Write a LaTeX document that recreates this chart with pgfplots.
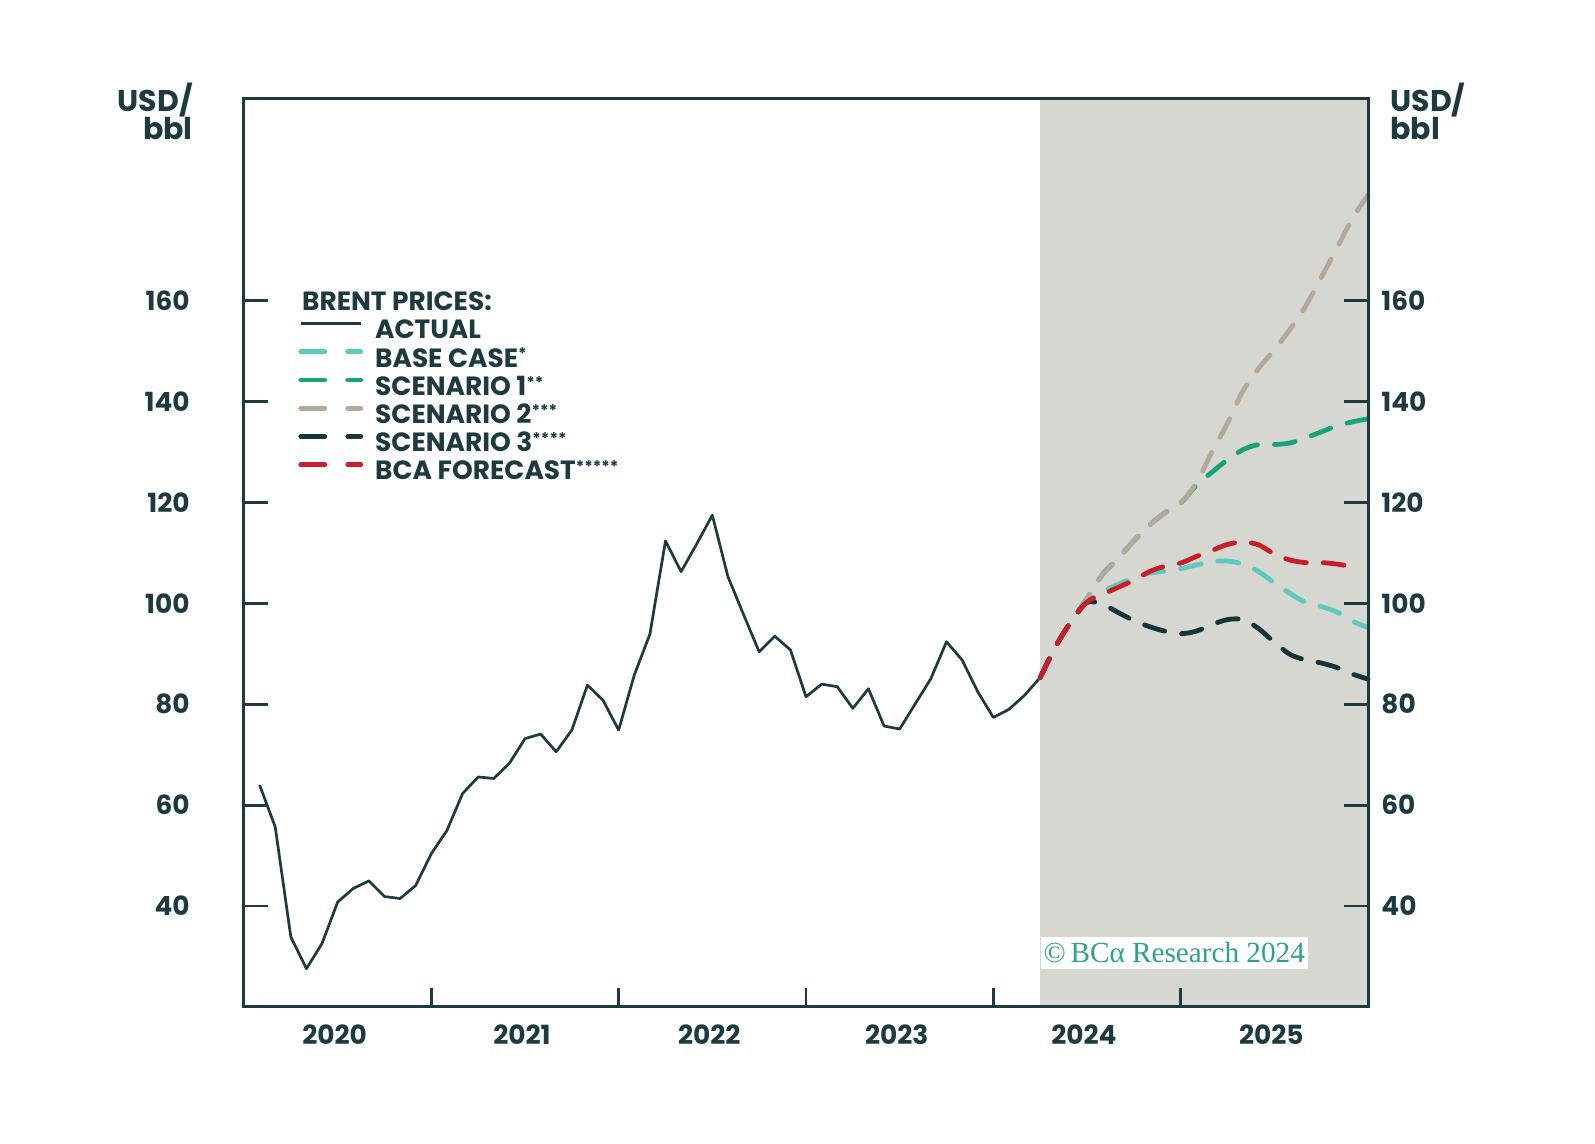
\documentclass[border=0pt]{standalone}
\usepackage{fontspec}
\setmainfont{Poppins}
\newfontfamily\crfont{Liberation Serif}
\usepackage{pgfplots}
\usepackage{pgfplotstable}
\pgfplotsset{compat=1.18}
\definecolor{axisdark}{HTML}{1C3A3F}
\definecolor{shadegray}{HTML}{D6D7D0}
\definecolor{basecol}{HTML}{5CCBBD}
\definecolor{sconecol}{HTML}{1AA37A}
\definecolor{sctwocol}{HTML}{B3A89C}
\definecolor{scthreecol}{HTML}{163539}
\definecolor{bcared}{HTML}{C8202A}
\definecolor{crgreen}{HTML}{2AA67A}
\newcommand\stars[1]{\raisebox{3.6pt}{\fontsize{8}{8}\selectfont #1}}
\newcommand\lblfont{\fontsize{13.2}{13.2}\selectfont\bfseries}

\pgfplotstableread{
m v
1 64.0
2 55.7
3 33.9
4 27.6
5 32.6
6 40.8
7 43.5
8 45.0
9 41.9
10 41.5
11 44.1
12 50.4
13 55.0
14 62.3
15 65.6
16 65.3
17 68.3
18 73.2
19 74.1
20 70.6
21 74.9
22 83.8
23 80.8
24 74.9
25 85.8
26 93.9
27 112.4
28 106.3
29 111.8
30 117.5
31 105.3
32 97.8
33 90.4
34 93.5
35 90.8
36 81.5
37 84.0
38 83.5
39 79.2
40 83.1
41 75.7
42 75.1
43 80.1
44 85.1
45 92.4
46 88.8
47 82.5
48 77.4
49 79.0
50 81.8
51 85.3
}\actual

\pgfplotstableread{
m base sone stwo sthree
51 85.3 85.3 85.3 85.3
52 91.5 91.5 91.5 91.5
53 96.5 96.5 96.5 96.5
54 100.3 101.0 101.0 100.2
55 102.3 105.8 105.8 99.8
56 103.8 108.9 108.9 98.2
57 105.0 112.4 112.4 96.6
58 106.0 115.5 115.5 95.4
59 106.4 118.0 118.0 94.5
60 106.9 119.9 119.9 94.0
61 107.6 123.4 123.9 94.5
62 108.3 126.0 130.0 95.8
63 108.4 128.5 135.7 96.8
64 107.8 130.5 142.2 96.8
65 106.3 131.5 146.6 95.0
66 104.1 131.5 150.3 92.3
67 102.0 131.8 154.3 89.9
68 100.2 132.8 158.9 88.8
69 99.4 134.0 164.6 88.2
70 98.3 135.2 170.4 87.3
71 96.5 136.0 176.3 86.0
72 95.2 136.6 181.0 85.0
}\scen

\pgfplotstableread{
m v
51 85.3
52 91.5
53 96.5
54 100.3
55 101.8
56 103.2
57 104.6
58 106.3
59 107.4
60 108.0
61 109.3
62 110.5
63 111.7
64 112.2
65 111.6
66 109.8
67 108.6
68 108.1
69 108.1
70 107.8
71 107.3
}\bca

\begin{document}
\begin{tikzpicture}
\useasboundingbox (-122pt,-68.5pt) rectangle (675.5pt,503.5pt);
\begin{axis}[
  scale only axis, width=562pt, height=454pt,
  xmin=0, xmax=72, ymin=20, ymax=200,
  axis on top, clip=false,
  axis line style={axisdark, line width=1.5pt},
  tick style={axisdark, line width=1.3pt},
  tick align=inside,
  major tick length=12pt,
  xtick={12,24,36,48,60}, xticklabels={},
  xtick pos=bottom,
  xtick style={/pgfplots/major tick length=9.5pt},
  extra x ticks={6,18,30,42,54,66},
  extra x tick labels={2020,2021,2022,2023,2024,2025},
  extra x tick style={major tick length=0pt, tick style={draw=none}},
  xticklabel style={inner sep=0pt, anchor=north, yshift=-8.5pt, xshift=-1.5pt, font=\lblfont, text=axisdark},
  ytick={40,60,...,160}, ytick pos=both,
  /pgf/number format/assume math mode=true,
  yticklabel style={inner sep=0pt, anchor=east, xshift=-27pt, font=\lblfont, text=axisdark},
  legend style={at={(rel axis cs:0.048,0.7591)}, anchor=north west, draw=none, fill=none, inner sep=0pt, row sep=0pt,
    font=\lblfont\color{axisdark},
    nodes={inner sep=0pt, text height=10.4pt, text depth=3.7pt},
    /tikz/every odd column/.append style={column sep=6pt}},
  legend cell align=left,
  legend image code/.code={\draw[#1] (1.25pt,4.3pt) -- (31.25pt,4.3pt);},
]
\fill[shadegray] (axis cs:51,20) rectangle (axis cs:72,200);
\addplot[axisdark, line width=1.35pt, line join=round, legend image post style={line cap=butt}] table[x=m,y=v] {\actual};
\addlegendentry{ACTUAL}
\addplot[basecol, line width=2.4pt, smooth, line cap=round, dash pattern=on 10.5pt off 8.5pt, legend image post style={dash pattern=on 12pt off 11.5pt on 6.5pt off 20pt}] table[x=m,y=base] {\scen};
\addlegendentry{BASE CASE\stars{*}}
\addplot[sconecol, line width=2.4pt, smooth, line cap=round, dash pattern=on 10.5pt off 8.5pt, legend image post style={dash pattern=on 12pt off 11.5pt on 6.5pt off 20pt}] table[x=m,y=sone] {\scen};
\addlegendentry{SCENARIO 1\stars{**}}
\addplot[sctwocol, line width=2.4pt, smooth, line cap=round, dash pattern=on 10.5pt off 8.5pt, legend image post style={dash pattern=on 12pt off 11.5pt on 6.5pt off 20pt}] table[x=m,y=stwo] {\scen};
\addlegendentry{SCENARIO 2\stars{***}}
\addplot[scthreecol, line width=2.4pt, smooth, line cap=round, dash pattern=on 10.5pt off 8.5pt, legend image post style={dash pattern=on 12pt off 11.5pt on 6.5pt off 20pt}] table[x=m,y=sthree] {\scen};
\addlegendentry{SCENARIO 3\stars{****}}
\addplot[bcared, line width=2.4pt, smooth, line cap=round, dash pattern=on 10.5pt off 8.5pt, legend image post style={dash pattern=on 12pt off 11.5pt on 6.5pt off 20pt}] table[x=m,y=v] {\bca};
\addlegendentry{BCA FORECAST\stars{*****}}
\node[fill=white, inner xsep=1.5pt, inner ysep=0pt, minimum height=15.8pt, anchor=west, text=crgreen, font=\crfont\fontsize{14.6}{14.6}\selectfont] at (axis cs:51,30.75) {\textcopyright\,BCα Research 2024};
\path (rel axis cs:0,0) ++(28.9pt,348.25pt) node[anchor=base west, inner sep=0pt, font=\lblfont, text=axisdark] {BRENT PRICES:};
\path (rel axis cs:0,1) ++(-25.5pt,8pt) node[anchor=north east, align=right, inner sep=0pt, font=\fontsize{15}{14}\selectfont\bfseries, text=axisdark] {USD/\\bbl};
\path (rel axis cs:1,1) ++(11pt,8pt) node[anchor=north west, align=left, inner sep=0pt, font=\fontsize{15}{14}\selectfont\bfseries, text=axisdark] {USD/\\bbl};
\end{axis}
\begin{axis}[
  scale only axis, width=562pt, height=454pt,
  xmin=0, xmax=72, ymin=20, ymax=200,
  hide x axis, axis y line*=right,
  axis line style={draw=none},
  ytick={40,60,...,160}, major tick length=0pt,
  tick style={draw=none},
  /pgf/number format/assume math mode=true,
  yticklabel style={inner sep=0pt, anchor=west, xshift=6.5pt, font=\lblfont, text=axisdark},
]
\end{axis}
\end{tikzpicture}
\end{document}
